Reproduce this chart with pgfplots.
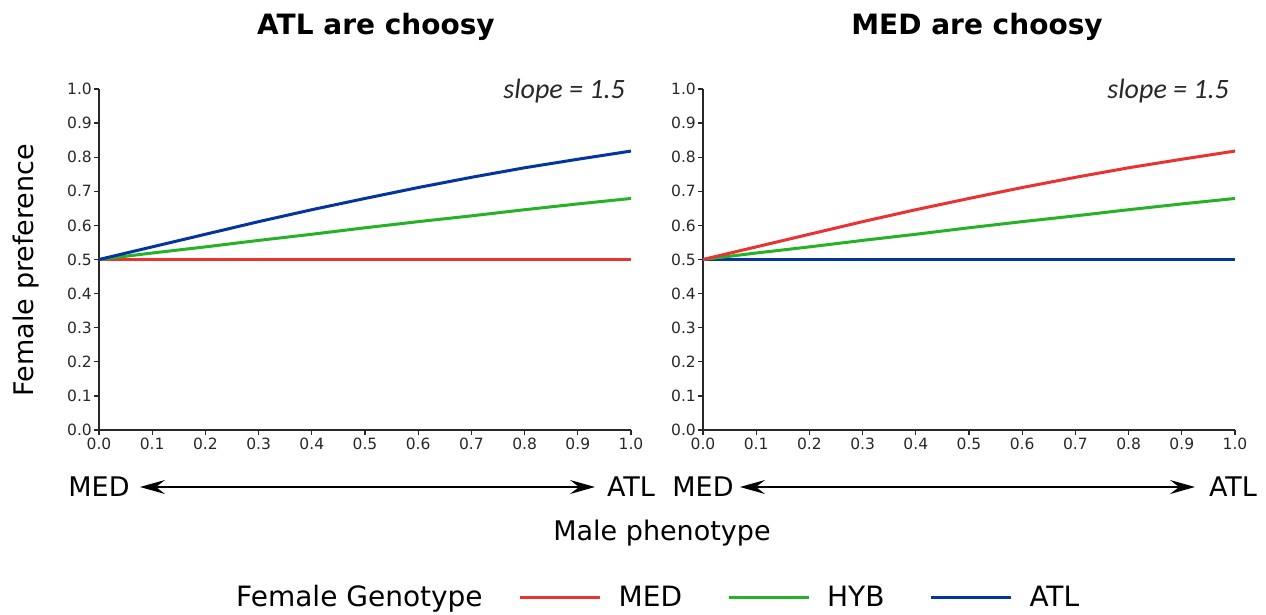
\documentclass[border=0pt]{standalone}
\usepackage{pgfplots}
\pgfplotsset{compat=1.18}
\usepackage{pgfplotstable}
\usepackage{fontspec}
\setmainfont{DejaVu Sans}
\newfontfamily\carlito{Carlito}
\usetikzlibrary{arrows.meta}
\definecolor{cred}{RGB}{234,50,48}
\definecolor{cgreen}{RGB}{38,178,38}
\definecolor{cblue}{RGB}{4,52,160}
\definecolor{axgray}{RGB}{40,40,40}

% x, preference of the choosy genotype, hybrids, and the non-choosy genotype
\pgfplotstableread{
x choosy hyb flat
0.0 0.500 0.500 0.500
0.1 0.537 0.519 0.500
0.2 0.574 0.537 0.500
0.3 0.611 0.556 0.500
0.4 0.646 0.574 0.500
0.5 0.679 0.593 0.500
0.6 0.711 0.611 0.500
0.7 0.741 0.628 0.500
0.8 0.769 0.646 0.500
0.9 0.794 0.663 0.500
1.0 0.818 0.679 0.500
}\prefdata

\begin{document}
\begin{tikzpicture}[x=1pt,y=1pt]
\useasboundingbox (0,0) rectangle (1266,614);
\pgfplotsset{myax/.style={
  width=532pt, height=341pt, scale only axis,
  xmin=0, xmax=1, ymin=0, ymax=1,
  axis lines*=left,
  tick align=outside,
  major tick length=5pt,
  xtick={0,0.1,0.2,0.3,0.4,0.5,0.6,0.7,0.8,0.9,1.0},
  ytick={0,0.1,0.2,0.3,0.4,0.5,0.6,0.7,0.8,0.9,1.0},
  axis line style={line width=1.5pt, axgray},
  tick style={line width=1.3pt, axgray},
  tick label style={font=\fontsize{15.5}{17}\selectfont, text=axgray},
  yticklabel style={inner sep=2pt},
  xticklabel style={inner sep=3pt},
  /pgf/number format/.cd, fixed, fixed zerofill, precision=1, assume math mode=true,
  /pgfplots/.cd,
  every axis plot/.append style={line width=3pt, mark=none, line join=round},
  clip=false,
}}

\begin{axis}[myax, at={(99pt,184pt)}, anchor=south west,
  legend columns=4,
  legend image code/.code={\draw[#1, line width=3pt] (0pt,0pt) -- (80pt,0pt);},
  legend style={at={(0.226,-0.490)}, anchor=west, draw=none, fill=none,
    inner sep=0pt, outer sep=0pt,
    font=\fontsize{28}{31}\selectfont,
    nodes={inner sep=0pt},
    /tikz/every odd column/.style={column sep=17pt},
    /tikz/every even column/.style={column sep=45pt}},
]
\addlegendimage{empty legend}
\addlegendentry{Female Genotype\hspace*{-9pt}}
\addplot[cred] table[x=x, y=flat] {\prefdata};
\addlegendentry{MED}
\addplot[cgreen] table[x=x, y=hyb] {\prefdata};
\addlegendentry{HYB}
\addplot[cblue] table[x=x, y=choosy] {\prefdata};
\addlegendentry{ATL}
\node[anchor=east, inner sep=0pt, font=\carlito\itshape\fontsize{28}{30}\selectfont, text=axgray] at (rel axis cs:0.989,0.994) {slope = 1.5};
\end{axis}

\begin{axis}[myax, at={(703pt,184pt)}, anchor=south west]
\addplot[cblue] table[x=x, y=flat] {\prefdata};
\addplot[cgreen] table[x=x, y=hyb] {\prefdata};
\addplot[cred] table[x=x, y=choosy] {\prefdata};
\node[anchor=east, inner sep=0pt, font=\carlito\itshape\fontsize{28}{30}\selectfont, text=axgray] at (rel axis cs:0.989,0.994) {slope = 1.5};
\end{axis}

% titles
\node[font=\bfseries\fontsize{28}{32}\selectfont] at (376,587) {ATL are choosy};
\node[font=\bfseries\fontsize{28}{32}\selectfont] at (977,587) {MED are choosy};
% axis labels
\node[rotate=90, font=\fontsize{27}{30}\selectfont] at (26,344) {Female preference};
\node[font=\fontsize{27}{30}\selectfont] at (662,81) {Male phenotype};
% phenotype arrows
\node[font=\fontsize{27}{30}\selectfont] at (99,127) {MED};
\node[font=\fontsize{27}{30}\selectfont] at (631,127) {ATL};
\node[font=\fontsize{27}{30}\selectfont] at (703,127) {MED};
\node[font=\fontsize{27}{30}\selectfont] at (1233,127) {ATL};
\draw[{Stealth[length=25pt,width=14pt,inset=9pt]}-{Stealth[length=25pt,width=14pt,inset=9pt]}, line width=1.5pt] (140,127) -- (595,127);
\draw[{Stealth[length=25pt,width=14pt,inset=9pt]}-{Stealth[length=25pt,width=14pt,inset=9pt]}, line width=1.5pt] (740,127) -- (1195,127);
\end{tikzpicture}
\end{document}
